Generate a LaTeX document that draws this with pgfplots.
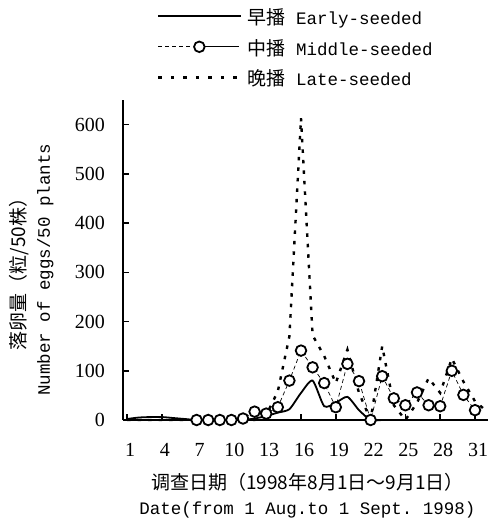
\documentclass[border=0pt]{standalone}
\usepackage{pgfplots}
\pgfplotsset{compat=1.18}
\usepackage{fontspec}
\setmainfont{Liberation Serif}
\setmonofont{Liberation Mono}
\newfontfamily\cjk{Noto Sans CJK SC}

\pgfplotstableread{
x y
1 2
2 5
3 6
4 6
5 4
6 2
7 0
8 0
9 0
10 0
11 0
12 3
13 8
14 15
15 22
16 55
17 80
18 28
19 35
20 47
21 20
22 0
23 0
24 0
25 0
26 0
27 0
28 0
29 0
30 0
31 0
}\early

\pgfplotstableread{
x y
7 0
8 0
9 0
10 0
11 3
12 17
13 13
14 26
15 80
16 141
17 107
18 75
19 26
20 114
21 79
22 0
23 89
24 44
25 30
26 56
27 30
28 28
29 100
30 51
31 20
}\middle

\pgfplotstableread{
x y
1 0
2 0
3 0
4 0
5 0
6 0
7 0
8 0
9 0
10 0
11 0
12 0
13 10
14 58
15 170
16 613
17 172
18 130
19 75
20 143
21 55
22 0
23 150
24 30
25 0
26 35
27 85
28 55
29 125
30 78
31 38
32 18
}\late

\begin{document}
\begin{tikzpicture}
\useasboundingbox (-123bp,-106bp) rectangle (365bp,420bp);
\begin{axis}[
  at={(0,0)}, anchor=south west,
  scale only axis, width=365bp, height=320bp,
  xmin=0.655, xmax=32.12, ymin=0, ymax=650,
  axis lines*=left,
  every inner x axis line/.append style={-},
  every inner y axis line/.append style={-},
  every outer x axis line/.append style={-},
  every outer y axis line/.append style={-},
  axis line style={line width=1.8bp, -},
  clip=false,
  xtick={1,4,...,31}, ytick={0,100,...,600},
  minor tick num=0,
  tick align=inside, major tick length=6bp,
  tick style={line width=1.5bp, black},
  /pgf/number format/assume math mode=true,
  ticklabel style={font=\fontsize{20bp}{22bp}\selectfont},
  xticklabel style={inner sep=0pt, anchor=north, yshift=-23bp, xshift=3bp},
  yticklabel style={inner sep=0pt, anchor=east, xshift=-18bp},
  xlabel={{\cjk\fontsize{19bp}{25bp}\selectfont 调查日期（1998年8月1日～9月1日）}\\{\ttfamily\fontsize{17.5bp}{25bp}\selectfont Date(from 1 Aug.to 1 Sept. 1998)}},
  xlabel style={align=center, inner sep=0pt, font=\fontsize{17.5bp}{25bp}\selectfont,
    at={(axis description cs:0.5,0)}, anchor=north, yshift=-53bp, xshift=2bp},
  ylabel={{\cjk\fontsize{19bp}{24bp}\selectfont 落卵量（粒/50株）}\\{\ttfamily\fontsize{17.5bp}{24bp}\selectfont Number of eggs/50 plants}},
  ylabel style={align=center, inner sep=0pt, font=\fontsize{17.5bp}{24bp}\selectfont,
    at={(axis description cs:-0.19,0.47)}, anchor=south, rotate=0},
  legend style={at={(axis description cs:0.093,1)}, anchor=south west, yshift=9bp,
    draw=none, fill=none, inner sep=0pt, row sep=11.5bp, column sep=5bp,
    font=\ttfamily\fontsize{17.5bp}{21bp}\selectfont,
    nodes={inner sep=0pt, text height=14bp, text depth=5bp}},
  legend cell align=left,
]
\addplot[forget plot, line width=2.4bp, dash pattern=on 3.5bp off 7bp] table[x=x,y=y] {\late};
\addplot[forget plot, line width=1.8bp, smooth, tension=0.4] table[x=x,y=y] {\early};
\addplot[forget plot, line width=0.7bp, dash pattern=on 4bp off 3bp,
  mark=*, mark size=5.3bp, mark options={solid, line width=1.8bp, fill=white, draw=black}] table[x=x,y=y] {\middle};

\addlegendimage{legend image code/.code={\draw[line width=1.8bp] (0bp,4bp)--(83bp,4bp);}}
\addlegendentry{{\cjk\fontsize{19bp}{21bp}\selectfont 早播}\ Early-seeded}
\addlegendimage{legend image code/.code={\draw[line width=0.8bp, dash pattern=on 4bp off 3bp] (0bp,4bp)--(34bp,4bp); \draw[line width=1.8bp] (41bp,4bp) circle (5.3bp); \draw[line width=1.2bp] (46.3bp,4bp)--(81bp,4bp);}}
\addlegendentry{{\cjk\fontsize{19bp}{21bp}\selectfont 中播}\ Middle-seeded}
\addlegendimage{legend image code/.code={\draw[line width=2.4bp, dash pattern=on 3.5bp off 9bp] (0bp,4bp)--(83bp,4bp);}}
\addlegendentry{{\cjk\fontsize{19bp}{21bp}\selectfont 晚播}\ Late-seeded}
\end{axis}
\end{tikzpicture}
\end{document}
